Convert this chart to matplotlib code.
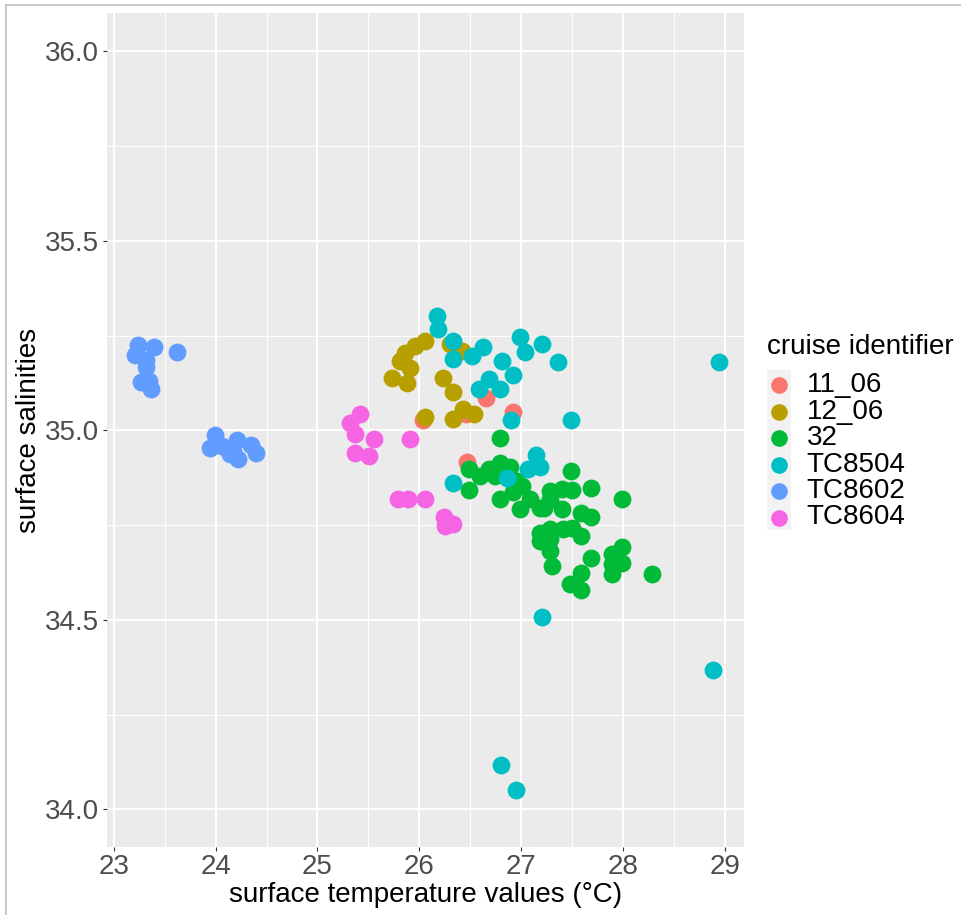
import matplotlib.pyplot as plt
from matplotlib.lines import Line2D
from matplotlib.patches import Rectangle

plt.rcParams['font.family'] = ['Liberation Sans', 'DejaVu Sans']

# cruise ids in legend / drawing order
cruises = ['11_06', '12_06', '32', 'TC8504', 'TC8602', 'TC8604']
colors = ['#F8766D', '#B79F00', '#00BA38', '#00BFC4', '#619CFF', '#F564E3']

# surface temperature (degC) and salinity per cruise
temp_1106 = [26.66, 26.92, 26.46, 26.04, 26.47]
sal_1106 = [35.084, 35.048, 35.042, 35.027, 34.916]

temp_1206 = [26.06, 25.96, 25.86, 25.81, 25.91, 25.73, 25.88, 26.23, 26.33,
             26.43, 26.54, 26.33, 26.06, 26.30, 26.42]
sal_1206 = [35.236, 35.222, 35.205, 35.183, 35.165, 35.139, 35.126, 35.139, 35.101,
            35.055, 35.042, 35.029, 35.034, 35.227, 35.209]

temp_32 = [26.79, 26.49, 26.49, 26.60, 26.69, 26.79, 26.89, 26.74, 26.96, 27.01,
           26.79, 26.92, 26.99, 27.09, 27.19, 27.28, 27.40, 27.50, 27.49, 27.69,
           27.99, 27.28, 27.23, 27.40, 27.59, 27.69, 27.19, 27.19, 27.28, 27.41,
           27.50, 27.59, 27.28, 27.28, 27.30, 27.69, 27.89, 27.99, 27.99, 27.89,
           27.59, 27.48, 27.59, 28.29, 27.89]
sal_32 = [34.981, 34.899, 34.842, 34.879, 34.897, 34.915, 34.902, 34.879, 34.866, 34.853,
          34.820, 34.836, 34.792, 34.818, 34.796, 34.840, 34.844, 34.842, 34.893, 34.849,
          34.820, 34.818, 34.796, 34.792, 34.781, 34.770, 34.730, 34.708, 34.739, 34.739,
          34.743, 34.720, 34.712, 34.682, 34.642, 34.664, 34.673, 34.693, 34.651, 34.620,
          34.623, 34.594, 34.579, 34.620, 34.647]

temp_tc8504 = [26.17, 26.18, 26.33, 26.33, 26.52, 26.63, 26.81, 26.99, 27.04, 27.21,
               27.36, 26.92, 26.69, 26.59, 26.79, 26.90, 27.49, 27.15, 27.07, 27.19,
               26.86, 26.33, 28.94, 28.89, 27.21, 26.80, 26.95]
sal_tc8504 = [35.302, 35.268, 35.236, 35.189, 35.196, 35.221, 35.183, 35.247, 35.207, 35.227,
              35.179, 35.145, 35.135, 35.108, 35.108, 35.027, 35.027, 34.934, 34.899, 34.902,
              34.873, 34.862, 35.179, 34.369, 34.508, 34.117, 34.050]

temp_tc8602 = [23.24, 23.39, 23.21, 23.62, 23.32, 23.32, 23.27, 23.35, 23.37,
               23.99, 23.94, 24.06, 24.21, 24.17, 24.22, 24.35, 24.40, 24.14]
sal_tc8602 = [35.224, 35.221, 35.198, 35.207, 35.185, 35.166, 35.127, 35.130, 35.110,
              34.987, 34.954, 34.959, 34.974, 34.945, 34.923, 34.960, 34.941, 34.937]

temp_tc8604 = [25.42, 25.32, 25.37, 25.56, 25.37, 25.51, 25.91, 25.79, 25.89, 26.06,
               26.24, 26.25, 26.33]
sal_tc8604 = [35.042, 35.020, 34.989, 34.976, 34.941, 34.932, 34.976, 34.818, 34.820, 34.820,
              34.770, 34.748, 34.752]

temps = [temp_1106, temp_1206, temp_32, temp_tc8504, temp_tc8602, temp_tc8604]
sals = [sal_1106, sal_1206, sal_32, sal_tc8504, sal_tc8602, sal_tc8604]

W, H = 961, 915
fig = plt.figure(figsize=(W / 100, H / 100), dpi=100)

# panel, placed in pixel terms
left, right, top, bottom = 106.7, 744, 13.3, 847.3
ax = fig.add_axes([left / W, 1 - bottom / H, (right - left) / W, (bottom - top) / H])
ax.set_facecolor('#EBEBEB')
for s in ax.spines.values():
    s.set_visible(False)

ax.set_xlim(22.93, 29.19)
ax.set_ylim(33.9, 36.1)
ax.set_xticks([23, 24, 25, 26, 27, 28, 29])
ax.set_yticks([34.0, 34.5, 35.0, 35.5, 36.0])
ax.set_yticklabels(['34.0', '34.5', '35.0', '35.5', '36.0'])
ax.set_xticks([23.5, 24.5, 25.5, 26.5, 27.5, 28.5], minor=True)
ax.set_yticks([34.25, 34.75, 35.25, 35.75], minor=True)
ax.grid(True, which='major', color='white', linewidth=1.4)
ax.grid(True, which='minor', color='white', linewidth=0.7)
ax.set_axisbelow(True)
ax.tick_params(which='major', length=3, width=0.8, color='#333333',
               labelsize=20, labelcolor='#4D4D4D')
ax.tick_params(axis='x', which='major', pad=1.5)
ax.tick_params(axis='y', which='major', pad=2.5)
ax.tick_params(which='minor', length=0)

for cid, col, t, s in zip(cruises, colors, temps, sals):
    ax.scatter(t, s, s=165, color=col, linewidths=0, zorder=3)

ax.set_xlabel('surface temperature values (°C)', fontsize=20, color='black', labelpad=2)
ax.set_ylabel('surface salinities', fontsize=20, color='black', labelpad=2)

# legend drawn by hand (ggplot style)
fig.text(767 / W, 1 - 347 / H, 'cruise identifier', fontsize=20, ha='left', va='center')
fig.add_artist(Rectangle((766.7 / W, 1 - 530 / H), 24 / W, 160 / H,
                         transform=fig.transFigure, facecolor='#F2F2F2', edgecolor='none'))
key_y = [385, 411.5, 438, 464.5, 491, 517.5]
for cid, col, ky in zip(cruises, colors, key_y):
    fig.add_artist(Line2D([779 / W], [1 - ky / H], marker='o', markersize=12,
                          markerfacecolor=col, markeredgewidth=0, linestyle='none',
                          transform=fig.transFigure))
    fig.text(806.7 / W, 1 - ky / H, cid, fontsize=20, ha='left', va='center')

# screenshot frame
fig.add_artist(Line2D([5.5 / W, 1], [1 - 5.3 / H, 1 - 5.3 / H], color='#BDBDBD',
                      linewidth=1.2, transform=fig.transFigure))
fig.add_artist(Line2D([5.5 / W, 5.5 / W], [0, 1 - 5.3 / H], color='#BDBDBD',
                      linewidth=1.2, transform=fig.transFigure))

fig.savefig('out.png', dpi=100)
